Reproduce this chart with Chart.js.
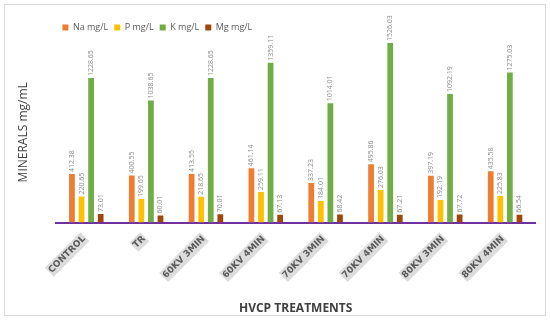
<!DOCTYPE html>
<html>
<head>
<meta charset="utf-8">
<script src="https://cdn.jsdelivr.net/npm/chart.js@4.4.1/dist/chart.umd.min.js"></script>
<style>
    html, body { margin: 0; padding: 0; background: #fff; }
    #wrap { width: 550px; height: 320px; position: relative; }
</style>
</head>
<body>
<div id="wrap"><canvas id="chart" width="550" height="320"></canvas></div>
<script>
// Treatments on the x axis
const treatments = ['CONTROL', 'TR', '60KV 3MIN', '60KV 4MIN', '70KV 3MIN', '70KV 4MIN', '80KV 3MIN', '80KV 4MIN'];

// Mineral values (mg/L)
const naValues = [412.38, 400.55, 413.55, 461.14, 337.23, 495.86, 397.19, 435.58];
const pValues  = [220.65, 199.65, 218.65, 259.11, 184.01, 276.03, 192.19, 225.83];
const kValues  = [1228.65, 1038.65, 1228.65, 1359.11, 1014.01, 1526.03, 1092.19, 1275.03];
const mgValues = [73.01, 60.01, 70.01, 67.13, 68.42, 67.21, 67.72, 66.54];

const seriesNames = ['Na mg/L', 'P mg/L', 'K mg/L', 'Mg mg/L'];
const seriesColors = ['#ED7D31', '#FFC000', '#70AD47', '#9E480E'];

// Frame round the whole chart
const framePlugin = {
    id: 'frame',
    beforeDraw: function(chart) {
        const ctx = chart.ctx;
        ctx.save();
        ctx.fillStyle = '#ffffff';
        ctx.fillRect(0, 0, chart.width, chart.height);
        ctx.strokeStyle = '#d9d9d9';
        ctx.lineWidth = 1;
        ctx.strokeRect(4.5, 4.5, 541, 311);
        ctx.restore();
    }
};

// Vertical value labels above every bar
const valueLabels = {
    id: 'valueLabels',
    afterDatasetsDraw: function(chart) {
        const ctx = chart.ctx;
        ctx.save();
        ctx.font = '7px "Liberation Sans Narrow", "Open Sans", sans-serif';
        ctx.fillStyle = '#8c8c8c';
        ctx.textAlign = 'left';
        ctx.textBaseline = 'middle';
        chart.data.datasets.forEach((ds, di) => {
            const meta = chart.getDatasetMeta(di);
            meta.data.forEach((bar, i) => {
                ctx.save();
                ctx.translate(bar.x, bar.y - 2);
                ctx.rotate(-Math.PI / 2);
                ctx.fillText(ds.data[i].toFixed(2), 0, 0);
                ctx.restore();
            });
        });
        ctx.restore();
    }
};

const datasets = [naValues, pValues, kValues, mgValues].map((values, i) => ({
    label: seriesNames[i],
    data: values,
    backgroundColor: seriesColors[i],
    borderWidth: 0,
    categoryPercentage: 0.64,
    barPercentage: 0.6
}));

new Chart(document.getElementById('chart'), {
    type: 'bar',
    data: { labels: treatments, datasets: datasets },
    options: {
        responsive: false,
        animation: false,
        layout: { padding: { left: 10, right: 15, top: 17, bottom: 4 } },
        plugins: {
            legend: {
                position: 'top',
                align: 'start',
                fullSize: false,
                labels: {
                    boxWidth: 6,
                    boxHeight: 6,
                    padding: 6,
                    color: '#595959',
                    font: { size: 9, family: '"Open Sans", sans-serif' }
                }
            },
            tooltip: { enabled: false }
        },
        scales: {
            x: {
                grid: { display: false },
                border: { display: true, color: '#7030A0', width: 2 },
                // the long first label should not push the plot to the right
                afterFit: function(scale) { scale.paddingLeft = 0; },
                ticks: {
                    minRotation: 45,
                    maxRotation: 45,
                    padding: 3,
                    labelOffset: -6,
                    color: '#595959',
                    font: { size: 9, weight: 'bold', family: '"DejaVu Sans", sans-serif' },
                    showLabelBackdrop: true,
                    backdropColor: '#dcdcdc',
                    backdropPadding: 1
                },
                title: {
                    display: true,
                    text: 'HVCP TREATMENTS',
                    color: '#404040',
                    font: { size: 12, weight: 'bold', family: '"Open Sans", sans-serif' },
                    padding: { top: 18, bottom: 0 }
                }
            },
            y: {
                min: 0,
                max: 1535,
                grid: { display: false },
                border: { display: false },
                ticks: { display: false },
                title: {
                    display: true,
                    text: 'MINERALS mg/mL',
                    color: '#404040',
                    font: { size: 12, family: '"Open Sans", sans-serif' },
                    padding: { top: 6, bottom: 18 }
                }
            }
        }
    },
    plugins: [framePlugin, valueLabels]
});
</script>
</body>
</html>
